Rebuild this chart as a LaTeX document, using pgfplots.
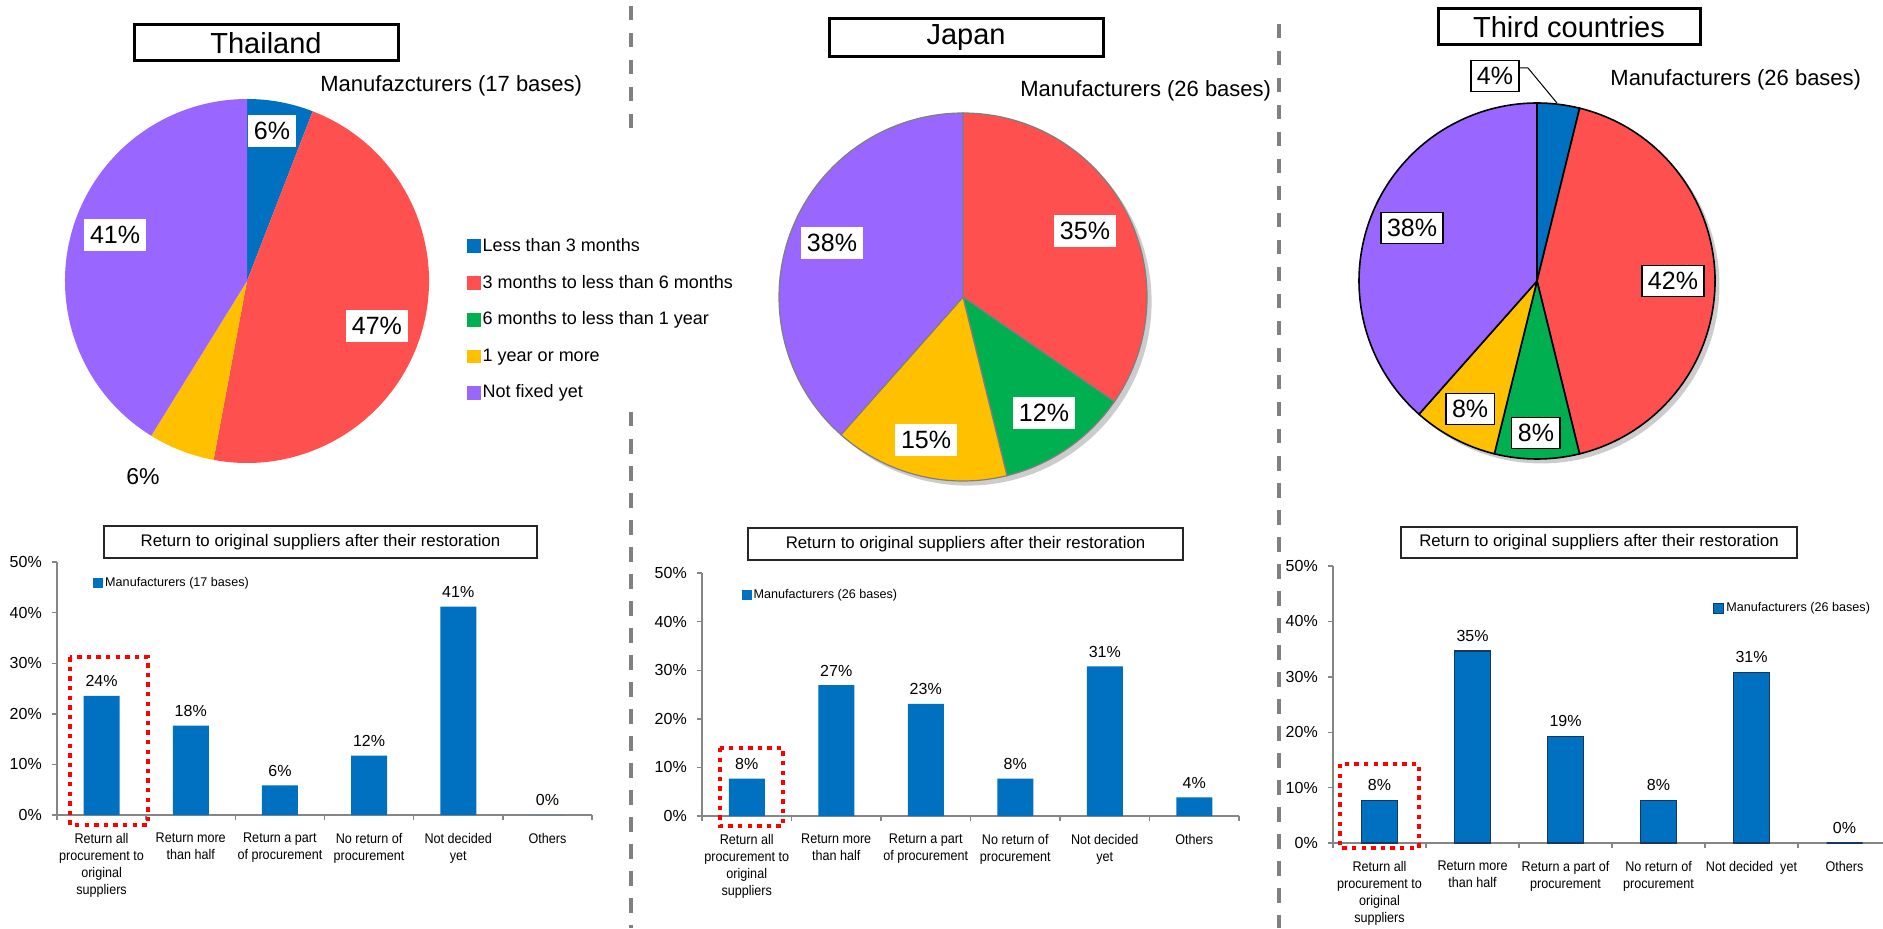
\documentclass[border=0pt]{standalone}
\usepackage{fontspec}
\setmainfont{Liberation Sans}
\newfontfamily\narrowfont[FakeStretch=0.9]{Liberation Sans}
\usepackage{pgfplots}
\pgfplotsset{compat=1.18}

\definecolor{cBlue}{HTML}{0070C0}
\definecolor{cRed}{HTML}{FF5050}
\definecolor{cGreen}{HTML}{00B050}
\definecolor{cYellow}{HTML}{FFC000}
\definecolor{cPurple}{HTML}{9966FF}
\definecolor{axisgray}{HTML}{868686}
\definecolor{divgray}{HTML}{808080}
\definecolor{pieedge}{HTML}{7F7F7F}
\definecolor{cNavy}{HTML}{17375E}

% slices clockwise from 12 o'clock: value/colour list, radius, edge style
\newcommand\drawpie[3]{%
  \pgfkeys{/pgf/fpu=false}%
  \xdef\pieang{90}%
  \foreach \v/\c in {#1}{%
    \pgfmathsetmacro\pieend{\pieang-3.6*\v}%
    \path[fill=\c,#3] (axis cs:0,0) -- (axis cs:{cos(\pieang)},{sin(\pieang)})
      arc[start angle=\pieang,end angle=\pieend,radius=#2] -- cycle;
    \xdef\pieang{\pieend}%
  }%
}

\tikzset{
  pielabel/.style={fill=white, inner xsep=3pt, inner ysep=3.5pt,
    font=\fontsize{12.5}{14}\selectfont},
  dotbox/.style={draw=red, line width=2.2pt, dash pattern=on 2.2pt off 2.6pt},
}
\pgfplotsset{
  piechart/.style={hide axis, scale only axis, anchor=origin, clip=false,
    xmin=-1, xmax=1, ymin=-1, ymax=1},
  barchart/.style={
    scale only axis, anchor=south west, ybar, bar width=18pt,
    xmin=-0.5, xmax=5.5, ymin=0, ymax=50, enlargelimits=false, clip=false,
    axis lines=left, axis line style={-, draw=axisgray, line width=0.7pt},
    tick align=outside, major tick length=2.6pt,
    tick style={draw=axisgray, line width=0.7pt},
    xtick={-0.5,0.5,1.5,2.5,3.5,4.5,5.5}, xticklabels={,,,,,,},
    ytick={0,10,20,30,40,50},
    yticklabel={\pgfmathprintnumber{\tick}\%},
    yticklabel style={font=\fontsize{8}{9}\selectfont, xshift=-1.5pt},
    /pgf/number format/assume math mode=true,
    extra x ticks={0,1,2,3,4,5},
    extra x tick style={major tick length=0pt,
      tick label style={font=\narrowfont\fontsize{7}{8.6}\selectfont, align=center, yshift=-5.5pt}},
    point meta=y,
    nodes near coords={\pgfmathprintnumber[fixed,precision=0]{\pgfplotspointmeta}\%},
    nodes near coords style={font=\fontsize{8}{9}\selectfont, yshift=1pt},
    legend style={draw=none, fill=none, anchor=west, inner sep=0pt,
      font=\fontsize{6.3}{7.5}\selectfont, nodes={inner sep=1pt}},
    legend image code/.code={\fill[cBlue] (0pt,-2.5pt) rectangle (5pt,2.5pt);},
  },
}

\begin{document}
\begin{tikzpicture}[x=0.5pt,y=0.5pt]
\useasboundingbox (0,0) rectangle (1883,928);

% ---------- pies ----------
\begin{axis}[piechart, x=91pt, y=91pt, at={(123.5pt,323.5pt)},
  legend cell align=left,
  legend style={at={(1.102,0.394)}, anchor=west, draw=none, fill=none, inner sep=0pt,
    font=\fontsize{9}{11}\selectfont, row sep=8pt, nodes={inner sep=1.2pt}},
  legend image code/.code={\fill[#1] (0pt,-3.2pt) rectangle (6.5pt,3.2pt);}]
\addlegendimage{cBlue}\addlegendentry{Less than 3 months}
\addlegendimage{cRed}\addlegendentry{3 months to less than 6 months}
\addlegendimage{cGreen}\addlegendentry{6 months to less than 1 year}
\addlegendimage{cYellow}\addlegendentry{1 year or more}
\addlegendimage{cPurple}\addlegendentry{Not fixed yet}
\pgfplotsextra{\drawpie{5.88/cBlue,47.06/cRed,0/cGreen,5.88/cYellow,41.18/cPurple}{91pt}{draw=none}}
\node[pielabel] at (axis cs:0.137,0.824) {6\%};
\node[pielabel] at (axis cs:0.714,-0.247) {47\%};
\node[pielabel] at (axis cs:-0.725,0.253) {41\%};
\node[font=\fontsize{11.5}{13}\selectfont] at (axis cs:-0.571,-1.077) {6\%};
\end{axis}

\begin{axis}[piechart, x=92pt, y=92pt, at={(481.5pt,315.5pt)}]
\pgfplotsextra{\fill[black,opacity=0.2] (axis cs:0.025,-0.025) circle[radius=92pt];
  \drawpie{0/cBlue,34.62/cRed,11.54/cGreen,15.38/cYellow,38.46/cPurple}{92pt}{draw=pieedge,line width=0.6pt}}
\node[pielabel] at (axis cs:0.663,0.359) {35\%};
\node[pielabel] at (axis cs:0.440,-0.630) {12\%};
\node[pielabel] at (axis cs:-0.201,-0.777) {15\%};
\node[pielabel] at (axis cs:-0.712,0.293) {38\%};
\end{axis}

\begin{axis}[piechart, x=89pt, y=89pt, at={(768.5pt,323.5pt)}]
\pgfplotsextra{\fill[black,opacity=0.2] (axis cs:0.025,-0.025) circle[radius=89pt];
  \drawpie{3.85/cBlue,42.31/cRed,7.69/cGreen,7.69/cYellow,38.46/cPurple}{89pt}{draw=black,line width=0.8pt}}
\draw[black, line width=0.5pt] (axis cs:-0.101,1.197) -- (axis cs:-0.051,1.197) -- (axis cs:0.112,1.0);
\node[pielabel, draw=black, line width=0.6pt] at (axis cs:-0.236,1.152) {4\%};
\node[pielabel, draw=black, line width=0.6pt] at (axis cs:0.764,0) {42\%};
\node[pielabel, draw=black, line width=0.6pt] at (axis cs:-0.702,0.298) {38\%};
\node[pielabel, draw=black, line width=0.6pt] at (axis cs:-0.376,-0.719) {8\%};
\node[pielabel, draw=black, line width=0.6pt] at (axis cs:-0.006,-0.854) {8\%};
\end{axis}

% ---------- bar charts ----------
\begin{axis}[barchart, at={(28.5pt,56.5pt)}, width=267.5pt, height=126.5pt,
  legend style={at={(0.067,0.917)}},
  extra x tick labels={{Return all\\procurement to\\original\\suppliers},{Return more\\than half},
    {Return a part\\of procurement},{No return of\\procurement},{Not decided\\yet},{Others}}]
\addplot[fill=cBlue, draw=none] coordinates {(0,23.53) (1,17.65) (2,5.88) (3,11.76) (4,41.18) (5,0)};
\addlegendentry{Manufacturers (17 bases)}
\draw[dotbox] (axis cs:-0.354,31.2) rectangle (axis cs:0.52,-1.98);
\end{axis}

\begin{axis}[barchart, at={(351pt,56pt)}, width=268.5pt, height=121.5pt,
  legend style={at={(0.073,0.909)}},
  extra x tick labels={{Return all\\procurement to\\original\\suppliers},{Return more\\than half},
    {Return a part\\of procurement},{No return of\\procurement},{Not decided\\yet},{Others}}]
\addplot[fill=cBlue, draw=none] coordinates {(0,7.69) (1,26.92) (2,23.08) (3,7.69) (4,30.77) (5,3.85)};
\addlegendentry{Manufacturers (26 bases)}
\draw[dotbox] (axis cs:-0.299,14.0) rectangle (axis cs:0.405,-2.06);
\end{axis}

\begin{axis}[barchart, at={(666.5pt,42.5pt)}, width=279pt, height=138.5pt,
  legend style={at={(0.681,0.848)}},
  legend image code/.code={\filldraw[fill=cBlue,draw=cNavy,line width=0.5pt] (0pt,-2.5pt) rectangle (5pt,2.5pt);},
  extra x tick labels={{Return all\\procurement to\\original\\suppliers},{Return more\\than half},
    {Return a part of\\procurement},{No return of\\procurement},{Not decided~~yet},{Others}}]
\addplot[fill=cBlue, draw=cNavy, line width=0.8pt] coordinates {(0,7.69) (1,34.62) (2,19.23) (3,7.69) (4,30.77) (5,0)};
\addlegendentry{Manufacturers (26 bases)}
\draw[dotbox] (axis cs:-0.425,14.26) rectangle (axis cs:0.425,-0.9);
\end{axis}

% ---------- titles and texts ----------
\tikzset{ctitle/.style={draw=black, line width=1.5pt, inner sep=0pt, font=\fontsize{14.5}{16}\selectfont},
  btitle/.style={draw=black!85, line width=0.75pt, inner sep=0pt, font=\fontsize{8.4}{10}\selectfont}}
\node[ctitle, minimum width=132pt, minimum height=18pt] at (266,885) {Thailand};
\node[ctitle, minimum width=137pt, minimum height=19pt] at (966,890) {Japan};
\node[ctitle, minimum width=131pt, minimum height=18pt] at (1569,901) {Third countries};

\node[anchor=west, font=\fontsize{11}{13}\selectfont, inner sep=0pt] at (320,842) {Manufazcturers (17 bases)};
\node[anchor=west, font=\fontsize{11}{13}\selectfont, inner sep=0pt] at (1020,837) {Manufacturers (26 bases)};
\node[anchor=west, font=\fontsize{11}{13}\selectfont, inner sep=0pt] at (1610,848) {Manufacturers (26 bases)};

\node[btitle, minimum width=216.5pt, minimum height=16pt] at (320.5,386) {Return to original suppliers after their restoration};
\node[btitle, minimum width=217.5pt, minimum height=16pt] at (965.5,384) {Return to original suppliers after their restoration};
\node[btitle, minimum width=198pt, minimum height=15.5pt] at (1599,385.5) {Return to original suppliers after their restoration};

% ---------- dividers ----------
\tikzset{divider/.style={draw=divgray, line width=2pt, dash pattern=on 7.25pt off 6.25pt}}
\draw[divider] (631,922) -- (631,792);
\draw[divider] (631,516) -- (631,0);
\draw[divider] (1279,904) -- (1279,0);
\end{tikzpicture}
\end{document}
